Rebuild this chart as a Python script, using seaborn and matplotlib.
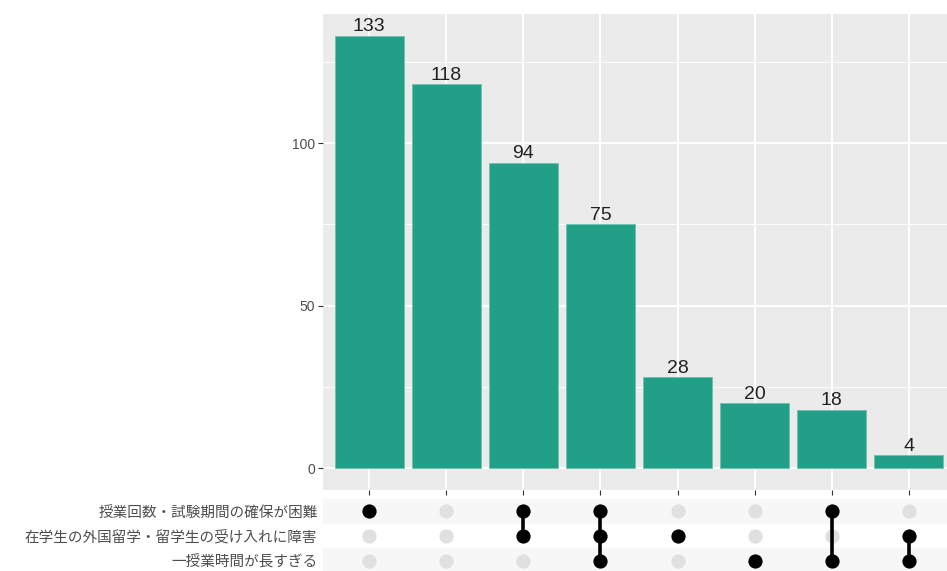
import numpy as np
import pandas as pd
import matplotlib
matplotlib.use("Agg")
import matplotlib.pyplot as plt
import seaborn as sns

# data
set_names = ["授業回数・試験期間の確保が困難",
             "在学生の外国留学・留学生の受け入れに障害",
             "一授業時間が長すぎる"]
counts = [133, 118, 94, 75, 28, 20, 18, 4]
# membership of each intersection (index into set_names)
members = [[0], [], [0, 1], [0, 1, 2], [1], [2], [0, 2], [1, 2]]

BAR = "#21A087"
PANEL = "#EBEBEB"
TXT = "#4D4D4D"

sns.set_theme(style="white")
plt.rcParams["font.family"] = ["Noto Sans CJK JP", "DejaVu Sans"]

W, H = 947, 571
fig = plt.figure(figsize=(W / 100, H / 100), dpi=100)

# bar panel (right side runs a little past the image edge, as in the reference)
ax = fig.add_axes([323 / W, 1 - 490 / H, (955 - 323) / W, (490 - 14) / H])
axm = fig.add_axes([323 / W, 1 - 573 / H, (955 - 323) / W, (573 - 499) / H])

df = pd.DataFrame({"combo": [str(i) for i in range(len(counts))], "count": counts})
sns.barplot(data=df, x="combo", y="count", color=BAR, width=0.9,
            saturation=1, ax=ax, zorder=3)
for p in ax.patches:
    p.set_edgecolor("#6CC2AF")
    p.set_linewidth(0.6)
for i, c in enumerate(counts):
    ax.text(i, c + 0.2, str(c), ha="center", va="bottom", fontsize=14,
            color="#222222", zorder=4, family=["Liberation Sans", "DejaVu Sans"])

ax.set_facecolor(PANEL)
ax.set_xlim(-0.6, len(counts) - 0.4)
ax.set_ylim(-6.65, 139.65)
ax.set_yticks([0, 50, 100])
ax.set_yticks([25, 75, 125], minor=True)
ax.grid(True, which="major", color="white", linewidth=1.4, zorder=0)
ax.grid(True, which="minor", axis="y", color="white", linewidth=0.7, zorder=0)
ax.set_axisbelow(True)
for s in ax.spines.values():
    s.set_visible(False)
ax.set_xticks(range(len(counts)))
ax.set_xticklabels([])
ax.set_xlabel("")
ax.set_ylabel("")
ax.tick_params(axis="both", which="major", length=3.5, width=0.8, color="#333333",
               labelsize=10, labelcolor=TXT, pad=2, bottom=True, left=True)
ax.tick_params(axis="y", which="minor", length=0)
for lab in ax.get_yticklabels():
    lab.set_family(["Liberation Sans", "DejaVu Sans"])

# matrix panel
axm.set_xlim(-0.6, len(counts) - 0.4)
axm.set_ylim(len(set_names) - 0.5, -0.5)
for r in range(len(set_names)):
    if r % 2 == 0:
        axm.axhspan(r - 0.5, r + 0.5, color="#F7F7F7", zorder=0, lw=0)

grid = pd.DataFrame([(i, r, r in m) for i, m in enumerate(members)
                     for r in range(len(set_names))], columns=["x", "y", "on"])
sns.scatterplot(data=grid[~grid["on"]], x="x", y="y", color="#E0E0E0", s=105,
                linewidth=0, ax=axm, zorder=2)
for i, m in enumerate(members):
    if len(m) > 1:
        axm.plot([i, i], [min(m), max(m)], color="black", lw=2.6, zorder=3)
sns.scatterplot(data=grid[grid["on"]], x="x", y="y", color="black", s=105,
                linewidth=0, ax=axm, zorder=4)

axm.set_facecolor("white")
for s in axm.spines.values():
    s.set_visible(False)
axm.set_xticks([])
axm.set_yticks(range(len(set_names)))
axm.set_yticklabels(set_names)
axm.set_xlabel("")
axm.set_ylabel("")
axm.tick_params(axis="y", length=0, labelsize=10.5, labelcolor=TXT, pad=4)
axm.grid(False)

fig.savefig("out.png", dpi=100)
